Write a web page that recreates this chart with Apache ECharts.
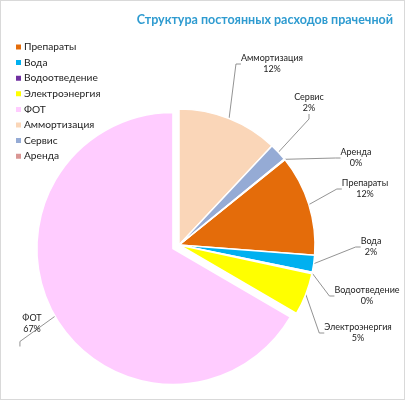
<!DOCTYPE html>
<html><head><meta charset="utf-8">
<script src="https://cdn.jsdelivr.net/npm/echarts@6/dist/echarts.min.js"></script>
<style>html,body{margin:0;padding:0;background:#fff}#c{width:403px;height:398px;border:1px solid #d9d9d9}</style>
</head><body><div id="c"></div>
<script>
var categories = ['Препараты','Вода','Водоотведение','Электроэнергия','ФОТ','Аммортизация','Сервис','Аренда'];
var values = [12, 2, 0.2, 5, 66.6, 12, 2.1, 0.1];
var colors = ['#E46C0A','#00B0F0','#7030A0','#FFFF00','#FFCCFF','#FAD6B8','#95ABD5','#D99694'];
// label anchor positions (layout only), in the same order as categories
var labelPos = [[364,188],[370,246],[366,295],[357,332],[25,353],[271,63],[308,102],[355,157]];

var chart = echarts.init(document.getElementById('c'));
var total = values.reduce(function(a,b){return a+b;},0);
var tail = values[5]+values[6]+values[7];
var font = 'Lato';
chart.setOption({
  animation:false,
  title:{text:'Структура постоянных расходов прачечной', right:6, top:7,
    textStyle:{color:'#2E9BD0', fontSize:12.5, fontWeight:'bold', fontFamily:font}},
  legend:{orient:'vertical', left:8, top:36, itemWidth:7, itemHeight:7, itemGap:5.6,
    icon:'rect', textStyle:{fontSize:10.2, fontFamily:font, color:'#222', padding:[0,0,0,-3]}, data:categories},
  series:[{
    type:'pie', center:[178,244], radius:[0,136], startAngle:90 - tail/total*360, clockwise:true,
    selectedMode:'multiple', selectedOffset:7,
    avoidLabelOverlap:false,
    itemStyle:{borderColor:'#fff', borderWidth:1.5},
    label:{formatter:function(p){return p.name+'\n'+Math.round(p.percent)+'%';}, fontSize:9, fontFamily:font, color:'#222', lineHeight:11, align:'center'},
    labelLine:{show:true, length:15, length2:5, lineStyle:{color:'#777', width:0.8}},
    labelLayout:function(p){
      var pos = labelPos[p.dataIndex];
      return {x:pos[0], y:pos[1], align:'center', verticalAlign:'middle', hideOverlap:false};
    },
    emphasis:{disabled:true},
    data: categories.map(function(n,i){return {name:n, value:values[i], selected: i===4, itemStyle:{color:colors[i]}};})
  }]
});
</script></body></html>
